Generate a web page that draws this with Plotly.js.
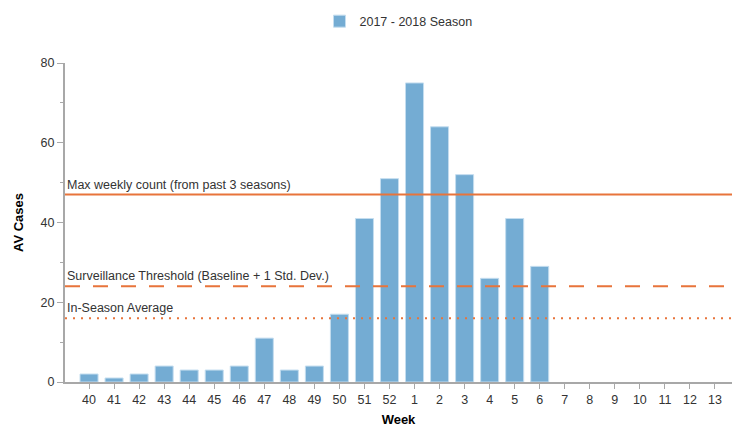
<!DOCTYPE html>
<html>
<head>
<meta charset="utf-8">
<script src="https://cdn.plot.ly/plotly-3.0.1.min.js"></script>
<style>html,body{margin:0;padding:0;background:#fff}#chart{width:732px;height:427px}</style>
</head>
<body>
<div id="chart"></div>
<script>
const weeks = ["40","41","42","43","44","45","46","47","48","49","50","51","52","1","2","3","4","5","6","7","8","9","10","11","12","13"];
const cases = [2,1,2,4,3,3,4,11,3,4,17,41,51,75,64,52,26,41,29,0,0,0,0,0,0,0];
const seriesName = "2017 - 2018 Season";
const maxWeekly = 47;
const threshold = 24;
const inSeasonAvg = 16;
const refLabels = ["Max weekly count (from past 3 seasons)", "Surveillance Threshold (Baseline + 1 Std. Dev.)", "In-Season Average"];

const orange = "#e8743b";
const trace = {
  type: "bar", x: weeks, y: cases, name: seriesName, width: 0.72,
  marker: {color: "#74acd3", line: {color: "#c4ddef", width: cases.map(v => v > 0 ? 1 : 0)}},
  hoverinfo: "x+y"
};
const refVals = [maxWeekly, threshold, inSeasonAvg];
const dashes = ["solid", "15px,13px", "2px,6px"];
const shapes = refVals.map((v, i) => ({
  type: "line", xref: "paper", x0: 0, x1: 1, yref: "y", y0: v, y1: v,
  line: {color: orange, width: 2, dash: dashes[i]}, layer: "above"
}));
const annotations = refVals.map((v, i) => ({
  xref: "paper", x: 0, xanchor: "left", xshift: 0, yref: "y", y: v, yanchor: "bottom", yshift: 1,
  text: refLabels[i], showarrow: false, font: {size: 12.5, color: "#333"}
}));
const layout = {
  width: 732, height: 427,
  margin: {l: 65, r: 0, t: 63, b: 45},
  font: {family: "Liberation Sans, Arial, sans-serif", size: 12.5, color: "#333"},
  paper_bgcolor: "#fff", plot_bgcolor: "#fff",
  showlegend: true,
  legend: {orientation: "h", x: 0.5, xanchor: "center", y: 1.13, yanchor: "middle", font: {size: 12.5, color: "#333"}},
  xaxis: {
    type: "category", range: [-0.96, 25.68],
    showline: true, linecolor: "#a8a8a8", linewidth: 2,
    ticks: "outside", ticklen: 5, tickcolor: "#a8a8a8", tickwidth: 1,
    showgrid: false, zeroline: false,
    title: {text: "Week", font: {size: 13, color: "#000", weight: "bold"}, standoff: 11}
  },
  yaxis: {
    range: [0, 80], dtick: 20, tick0: 0,
    showline: true, linecolor: "#a8a8a8", linewidth: 2,
    ticks: "outside", ticklen: 6, tickcolor: "#a8a8a8", tickwidth: 1,
    minor: {dtick: 10, ticks: "outside", ticklen: 3, tickcolor: "#a8a8a8"},
    showgrid: false, zeroline: false,
    title: {text: "AV Cases", font: {size: 13, color: "#000", weight: "bold"}, standoff: 14}
  },
  shapes: shapes,
  annotations: annotations
};
Plotly.newPlot("chart", [trace], layout, {displayModeBar: false, staticPlot: true});
</script>
</body>
</html>
